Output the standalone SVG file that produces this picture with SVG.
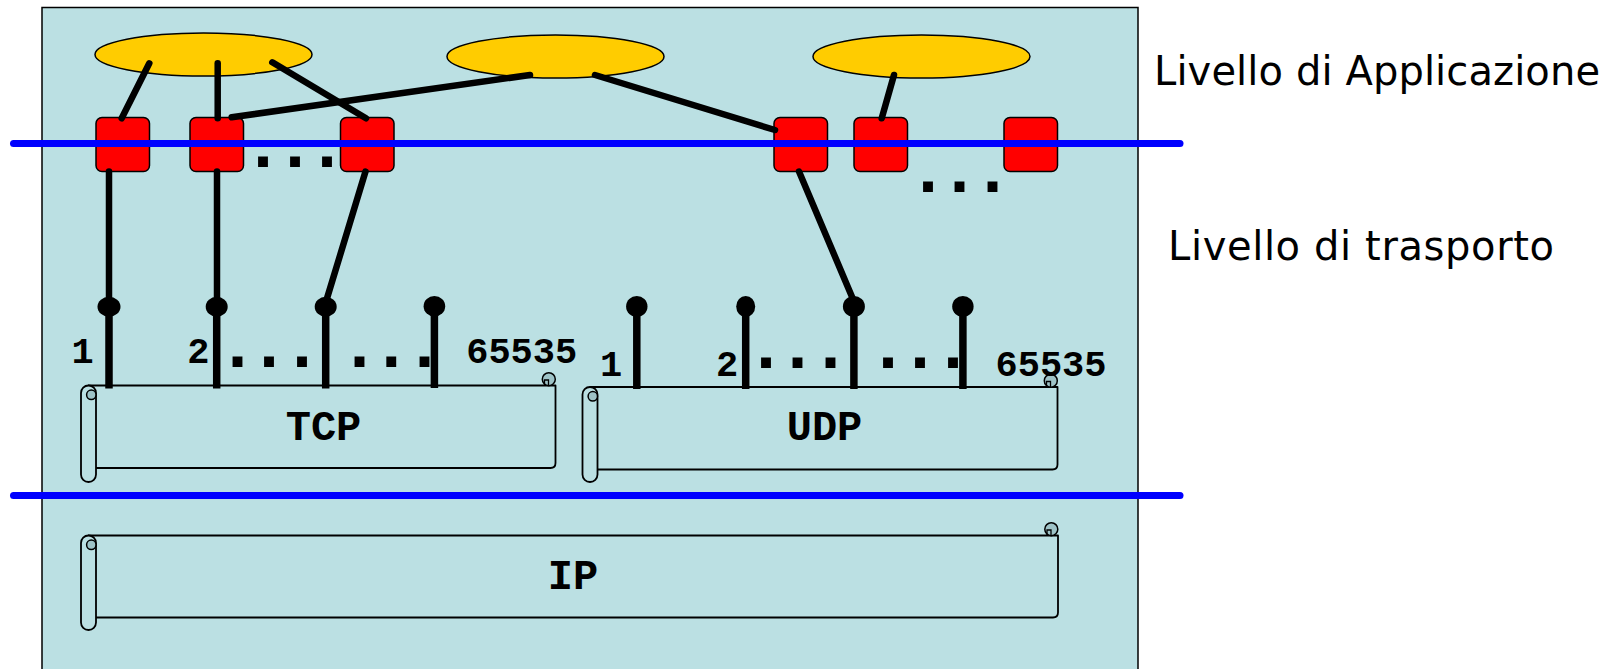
<svg xmlns="http://www.w3.org/2000/svg" width="1618" height="669" viewBox="0 0 1618 669">
<style>
.bg{fill:#BBE0E3;stroke:#000;stroke-width:1.5}
.app{fill:#FFCC00;stroke:#000;stroke-width:1.5}
.sock{fill:#FF0000;stroke:#000;stroke-width:1.5}
.scroll{fill:#BBE0E3;stroke:#000;stroke-width:1.8;stroke-linejoin:round}
.curl{fill:#9EC3C7;stroke:#000;stroke-width:1.5}
.tick{fill:none;stroke:#000;stroke-width:1.3}
.stem{stroke:#000;stroke-width:7.5}
.ball{fill:#000}
.conn{stroke:#000;stroke-width:6.5;stroke-linecap:round;fill:none}
.layer{stroke:#0000FF;stroke-width:7;stroke-linecap:round}
.mono{font-family:"Liberation Mono","DejaVu Sans Mono",monospace;font-weight:bold;fill:#000}
.num{font-size:37px}
.proto{font-size:42px}
.dots{font-size:70px}
.side{font-family:"DejaVu Sans","Liberation Sans",sans-serif;font-size:40px;fill:#000}
</style>
<rect x="0" y="0" width="1618" height="669" fill="#FFFFFF"/>
<rect class="bg" x="42" y="7.5" width="1096" height="690"/>

<g id="app1"><ellipse class="app" cx="203.5" cy="54.5" rx="108.5" ry="21.5"/></g>
<g id="app2"><ellipse class="app" cx="555.5" cy="56.5" rx="108.5" ry="21.5"/></g>
<g id="app3"><ellipse class="app" cx="921.5" cy="56.5" rx="108.5" ry="21.5"/></g>

<g id="sock1"><rect class="sock" x="96" y="117.5" width="53.5" height="54" rx="6"/></g>
<g id="sock2"><rect class="sock" x="190" y="117.5" width="53.5" height="54" rx="6"/></g>
<g id="sock3"><rect class="sock" x="340.5" y="117.5" width="53.5" height="54" rx="6"/></g>
<g id="sock4"><rect class="sock" x="774" y="117.5" width="53.5" height="54" rx="6"/></g>
<g id="sock5"><rect class="sock" x="854" y="117.5" width="53.5" height="54" rx="6"/></g>
<g id="sock6"><rect class="sock" x="1004" y="117.5" width="53.5" height="54" rx="6"/></g>

<g id="tcp">
<path class="scroll" d="M88 385.5 H555.5 V463 Q555.5 468 550.5 468 H96"/>
<rect class="scroll" x="81" y="385.5" width="15" height="96.5" rx="7.5"/>
<circle class="curl" cx="91.3" cy="394.8" r="4.7"/>
<circle class="curl" cx="548.8" cy="379.2" r="6.5"/>
<path class="tick" d="M544.5 385.5 V380 H548.5 V385.5"/>
<text class="mono proto" x="323.5" y="440" text-anchor="middle">TCP</text>
</g>
<g id="udp">
<path class="scroll" d="M589.5 387 H1057.5 V464.5 Q1057.5 469.5 1052.5 469.5 H597"/>
<rect class="scroll" x="582.5" y="387" width="15" height="95" rx="7.5"/>
<circle class="curl" cx="592.8" cy="396.3" r="4.7"/>
<circle class="curl" cx="1050.8" cy="380.7" r="6.5"/>
<path class="tick" d="M1046.5 387 V381.5 H1050.5 V387"/>
<text class="mono proto" x="824.5" y="440" text-anchor="middle">UDP</text>
</g>
<g id="ip">
<path class="scroll" d="M88 535.5 H1058 V612.5 Q1058 617.5 1053 617.5 H96"/>
<rect class="scroll" x="81" y="535.5" width="15" height="94.5" rx="7.5"/>
<circle class="curl" cx="91.3" cy="544.8" r="4.7"/>
<circle class="curl" cx="1051.3" cy="529.2" r="6.5"/>
<path class="tick" d="M1047 535.5 V530 H1051 V535.5"/>
<text class="mono proto" x="573" y="588.5" text-anchor="middle">IP</text>
</g>

<g id="tcp-port1"><line class="stem" x1="109" y1="306" x2="109" y2="388.5"/><ellipse class="ball" cx="109" cy="306.7" rx="11.5" ry="10"/></g>
<g id="tcp-port2"><line class="stem" x1="216.7" y1="306" x2="216.7" y2="388.5"/><ellipse class="ball" cx="216.7" cy="306.7" rx="11" ry="10"/></g>
<g id="tcp-port3"><line class="stem" x1="325.7" y1="306" x2="325.7" y2="388.5"/><ellipse class="ball" cx="325.7" cy="306.7" rx="11" ry="10"/></g>
<g id="tcp-port65535"><line class="stem" x1="434.4" y1="306" x2="434.4" y2="388"/><ellipse class="ball" cx="434.4" cy="306.2" rx="10.8" ry="10.3"/></g>
<g id="udp-port1"><line class="stem" x1="636.8" y1="306" x2="636.8" y2="389"/><ellipse class="ball" cx="636.8" cy="306.5" rx="10.7" ry="10.5"/></g>
<g id="udp-port2"><line class="stem" x1="745.7" y1="306" x2="745.7" y2="389"/><ellipse class="ball" cx="745.7" cy="306.5" rx="9.5" ry="10.5"/></g>
<g id="udp-port3"><line class="stem" x1="853.9" y1="306" x2="853.9" y2="389"/><ellipse class="ball" cx="853.9" cy="306.5" rx="11" ry="10.5"/></g>
<g id="udp-port65535"><line class="stem" x1="962.9" y1="306" x2="962.9" y2="389"/><ellipse class="ball" cx="962.9" cy="306.5" rx="10.7" ry="10.5"/></g>

<g id="connectors">
<line class="conn" x1="149.3" y1="63.3" x2="121.7" y2="118.3"/>
<line class="conn" x1="217.7" y1="63.3" x2="217.7" y2="118.3"/>
<line class="conn" x1="272.3" y1="62.3" x2="366" y2="118.3"/>
<line class="conn" x1="231.7" y1="117.3" x2="530" y2="75"/>
<line class="conn" x1="595" y1="75" x2="775" y2="130"/>
<line class="conn" x1="894" y1="75" x2="881.7" y2="118.3"/>
<line class="conn" x1="109" y1="171.5" x2="109" y2="306"/>
<line class="conn" x1="217" y1="171.5" x2="217" y2="306"/>
<line class="conn" x1="365.5" y1="171.5" x2="326.5" y2="300"/>
<line class="conn" x1="799" y1="171.5" x2="852.5" y2="298"/>
</g>

<g id="layers">
<line class="layer" x1="13.5" y1="143.5" x2="1180" y2="143.5"/>
<line class="layer" x1="13.5" y1="495.5" x2="1180" y2="495.5"/>
</g>

<g id="labels">
<text class="mono dots" x="263 295 327" y="167" text-anchor="middle">...</text>
<text class="mono dots" x="928 959.5 992.5" y="191.5" text-anchor="middle">...</text>
<text class="mono dots" x="237.5 269 302 359.5 391.3 424.5" y="367" text-anchor="middle">......</text>
<text class="mono dots" x="766 797.5 830.5 888 920 953" y="367.5" text-anchor="middle">......</text>
<text class="mono num" x="82.5" y="363" text-anchor="middle">1</text>
<text class="mono num" x="198.3" y="363" text-anchor="middle">2</text>
<text class="mono num" x="521.7" y="363" text-anchor="middle">65535</text>
<text class="mono num" x="611" y="376" text-anchor="middle">1</text>
<text class="mono num" x="727" y="376" text-anchor="middle">2</text>
<text class="mono num" x="1051" y="376" text-anchor="middle">65535</text>
<text class="side" x="1154" y="85" textLength="446" lengthAdjust="spacing">Livello di Applicazione</text>
<text class="side" x="1168" y="260" textLength="386" lengthAdjust="spacing">Livello di trasporto</text>
</g>
</svg>
